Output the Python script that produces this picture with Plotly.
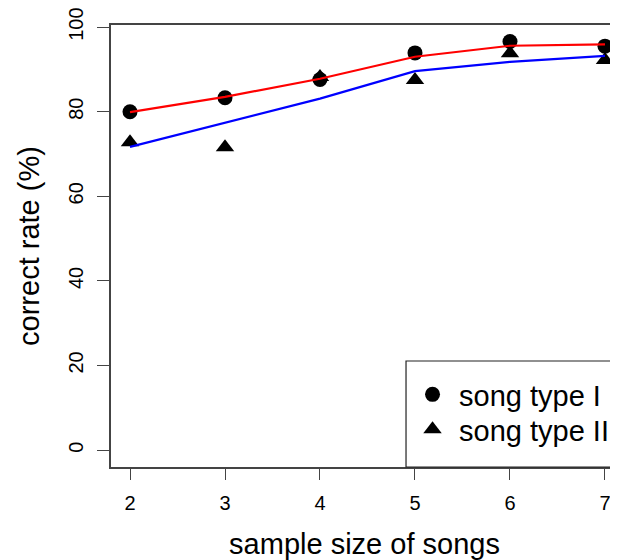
import plotly.graph_objects as go

sample_size = [2, 3, 4, 5, 6, 7]
type1_points = [80.0, 83.3, 87.6, 93.9, 96.6, 95.5]
type2_points = [72.8, 71.6, 88.2, 87.5, 93.8, 92.2]
type1_fit = [79.9, 83.5, 87.8, 93.0, 95.6, 95.9]
type2_fit = [71.7, 77.4, 83.1, 89.6, 91.8, 93.2]
x_ticks = [2, 3, 4, 5, 6, 7]
y_ticks = [0, 20, 40, 60, 80, 100]

FONT = "Liberation Sans, Arial, Helvetica, sans-serif"

fig = go.Figure()
fig.add_trace(go.Scatter(x=sample_size, y=type1_points, mode="markers", name="song type I",
                         marker=dict(symbol="circle", size=15, color="black"), legend="legend"))
fig.add_trace(go.Scatter(x=sample_size, y=type2_points, mode="markers", name="song type II",
                         marker=dict(symbol="triangle-up", size=16, color="black"), legend="legend2"))
fig.add_trace(go.Scatter(x=sample_size, y=type1_fit, mode="lines",
                         line=dict(color="#ff0000", width=2.2), showlegend=False))
fig.add_trace(go.Scatter(x=sample_size, y=type2_fit, mode="lines",
                         line=dict(color="#0000ff", width=2.2), showlegend=False))

legend_common = dict(xanchor="left", yanchor="top", borderwidth=0, bgcolor="rgba(0,0,0,0)",
                     font=dict(size=29), itemwidth=43)

fig.update_layout(
    width=610, height=552,
    margin=dict(l=103, r=0, t=17, b=93),
    paper_bgcolor="white", plot_bgcolor="white",
    font=dict(family=FONT, color="black"),
    legend=dict(x=0.5819, y=0.2217, **legend_common),
    legend2=dict(x=0.5819, y=0.1425, **legend_common),
    shapes=[dict(type="rect", xref="paper", yref="paper", x0=0.5819, x1=1.08, y0=0, y1=0.2398,
                 line=dict(color="#222", width=1.2), fillcolor="rgba(0,0,0,0)", layer="above")],
)
fig.update_xaxes(range=[1.8, 7.137], tickvals=x_ticks, ticks="outside", ticklen=11,
                 tickwidth=1.3, tickcolor="#444", showline=True, linecolor="#444",
                 linewidth=1.5, mirror=True, showgrid=False, zeroline=False,
                 ticklabelstandoff=6,
                 tickfont=dict(size=20), title=dict(text="sample size of songs", font=dict(size=29), standoff=22))
fig.update_yaxes(range=[-4, 100.5], tickvals=y_ticks, ticks="outside", ticklen=12,
                 tickwidth=1.3, tickcolor="#444", showline=True, linecolor="#444",
                 linewidth=1.5, mirror=False, showgrid=False, zeroline=False,
                 tickangle=-90, tickfont=dict(size=20), ticklabeloverflow="allow",
                 ticklabelstandoff=6,
                 title=dict(text="correct rate (%)", font=dict(size=29), standoff=17))

fig.write_html("out.html")
